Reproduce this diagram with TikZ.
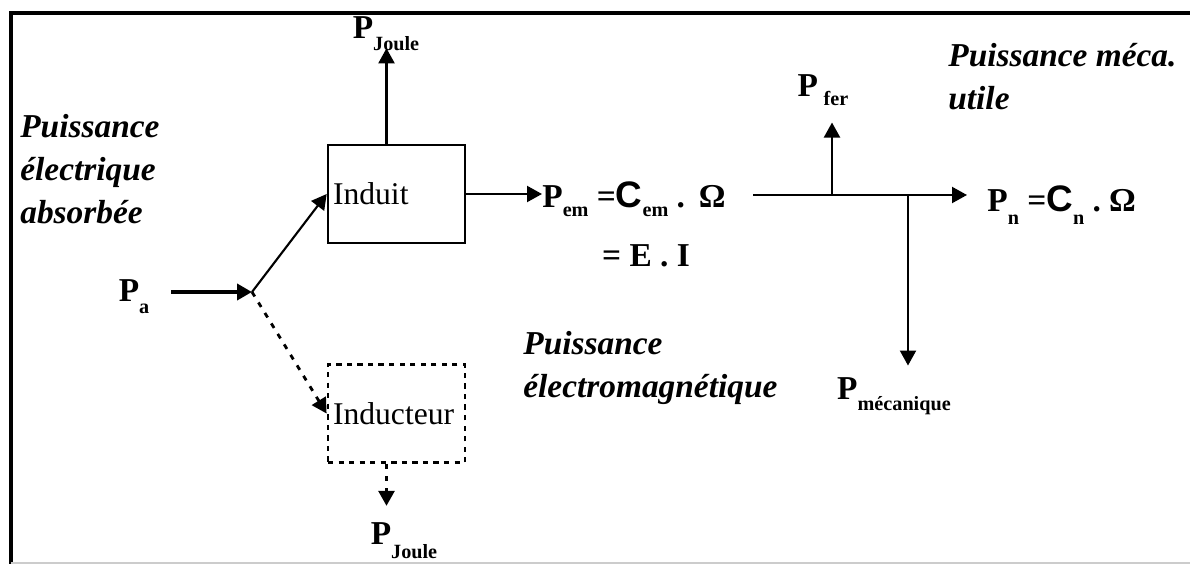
\documentclass[tikz,border=0pt]{standalone}
\usepackage{fontspec}
\setmainfont{Liberation Serif}
\newfontfamily\csans{Liberation Sans}
\usepackage{tikz}
\usetikzlibrary{arrows.meta}
\newcommand{\pw}[2][5pt]{\textbf{P}\raisebox{-#1}{\fontsize{11.5}{12}\selectfont\bfseries #2}}
\newcommand{\pwsub}[2][5pt]{\raisebox{-#1}{\fontsize{11.5}{12}\selectfont\bfseries #2}}
\newcommand{\cc}{{\csans\bfseries\fontsize{21}{22}\selectfont C}}
\tikzset{
  pbox/.style={draw, line width=1.5pt, minimum width=2.74cm, minimum height=1.96cm, inner xsep=0.1cm, text width=2.54cm, align=left, font=\fontsize{18}{20}\selectfont},
  pdbox/.style={pbox, dash pattern=on 3pt off 3pt, line width=1.6pt},
  plbl/.style={font=\fontsize{19}{22}\selectfont\bfseries, inner sep=1pt},
  pital/.style={font=\fontsize{19}{24.5}\selectfont\bfseries\itshape, align=left, inner sep=0pt},
  pflow/.style={line width=1.2pt, -{Triangle[length=0.3cm, width=0.32cm]}},
  pdflow/.style={pflow, dash pattern=on 3pt off 4pt, line width=1.6pt},
  pframe/.style={line width=2.2pt}
}
\begin{document}
\begin{tikzpicture}[x=0.02cm, y=-0.02cm]
  \useasboundingbox (0,0) rectangle (1190,564);
  % cadre
  \draw[pframe] (1190,13) -- (11,13) -- (11,564);
  \draw[gray!40, line width=0.6pt] (11,563) -- (1190,563);
  % entree
  \node[pital, anchor=west] (pabs) at (20,169) {Puissance\\électrique\\absorbée};
  \node[plbl] (pa) at (134,297) {\pw[7pt]{a}};
  \coordinate (j) at (252,292);
  \draw[pflow, line width=2.4pt, shorten <=0.4cm] (pa.east |- j) -- (j);
  % induit et inducteur
  \node[pbox] (ind) at (396.5,194) {Induit};
  \node[pdbox] (inr) at (396.5,413.5) {Inducteur};
  \draw[pflow] (j) -- (ind.west);
  \draw[pdflow] (j) -- (inr.west);
  % pertes Joule
  \node[plbl] (pj1) at (386,34) {\pw[7pt]{Joule}};
  \draw[pflow, shorten >=-0.1cm] ([xshift=-0.2cm]ind.north) -- ([xshift=-0.2cm]ind.north |- pj1.south);
  \node[plbl] (pj2) at (404,541) {\pw[8pt]{Joule}};
  \draw[pdflow, shorten >=0.3cm] ([xshift=-0.2cm]inr.south) -- ([xshift=-0.2cm]inr.south |- pj2.north);
  % puissance electromagnetique
  \node[plbl, anchor=west, inner sep=0pt] (pem) at (542,199) {\pw{em}~=\cc\pwsub{em}~.~\,Ω};
  \draw[pflow] (ind.east) -- (ind.east -| pem.west);
  \node[plbl] (pei) at (646,256) {=~E~.~I};
  \node[pital, anchor=west] (pelm) at (523,368) {Puissance\\électromagnétique};
  % sortie mecanique
  \coordinate (m0) at (753,195);
  \coordinate (bfer) at (832,195);
  \coordinate (bmec) at (908,195);
  \node[plbl, anchor=west, inner sep=0pt] (pn) at (987,205) {\pw[7pt]{n}~=\cc\pwsub[7pt]{n}~.~Ω};
  \draw[pflow, shorten >=0.4cm] (m0) -- (m0 -| pn.west);
  \node[plbl] (pfer) at (823,90) {P\,\pwsub{fer}};
  \draw[pflow, shorten >=0.3cm] (bfer) -- (bfer |- pfer.south);
  \node[plbl] (pmec) at (894,396) {\pw[6pt]{mécanique}};
  \draw[pflow, shorten >=0.2cm] (bmec) -- (bmec |- pmec.north);
  \node[pital, anchor=west] (putil) at (948,77) {Puissance méca.\\utile};
\end{tikzpicture}
\end{document}
